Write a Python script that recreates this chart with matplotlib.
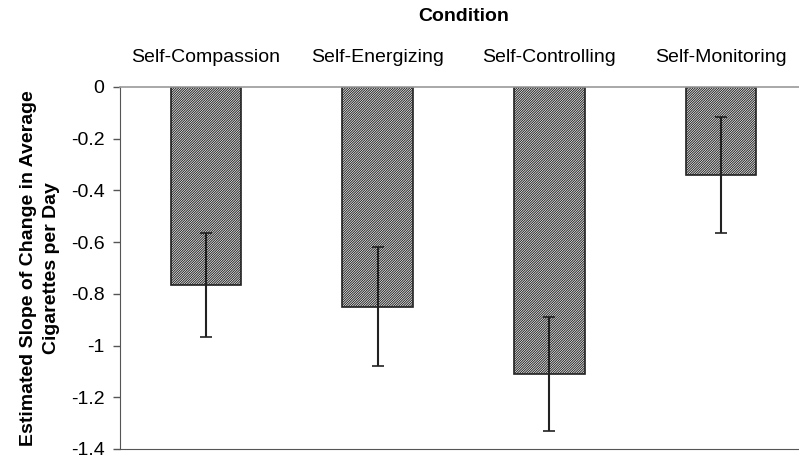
import matplotlib.pyplot as plt
import numpy as np

plt.rcParams['font.family'] = ['Liberation Sans', 'DejaVu Sans']
plt.rcParams['hatch.color'] = '#8a8a8a'
plt.rcParams['hatch.linewidth'] = 0.7

conditions = ["Self-Compassion", "Self-Energizing", "Self-Controlling", "Self-Monitoring"]
slopes = [-0.765, -0.85, -1.11, -0.34]
errors = [0.2, 0.23, 0.22, 0.225]
y_ticks = [0, -0.2, -0.4, -0.6, -0.8, -1, -1.2, -1.4]

fig = plt.figure(figsize=(7.99, 4.59), dpi=100)
ax = fig.add_axes([0.150, 0.0218, 0.86, 0.7887])

x = np.arange(len(conditions))
ax.bar(x, slopes, width=0.41, color='white', edgecolor='#222222',
       linewidth=1.2, hatch='/' * 14)
ax.errorbar(x, slopes, yerr=errors, fmt='none', ecolor='#222222',
            elinewidth=1.5, capsize=4.5, capthick=1.2)

ax.set_xlim(-0.5, 3.5)
ax.set_ylim(-1.4, 0)
ax.set_yticks(y_ticks)
ax.set_yticklabels([("%g" % v) for v in y_ticks])

ax.xaxis.tick_top()
ax.set_xticks(x)
ax.set_xticklabels(conditions)
ax.tick_params(axis='x', length=0, pad=15, labelsize=14)
ax.tick_params(axis='y', direction='out', length=5, width=1, color='#555555',
               pad=6, labelsize=14)

ax.xaxis.set_label_position('top')
ax.set_xlabel("Condition", fontsize=14, fontweight='bold', labelpad=20)
ax.set_ylabel("Estimated Slope of Change in Average\nCigarettes per Day",
              fontsize=14, fontweight='bold', labelpad=8, linespacing=1.45)

ax.spines['right'].set_visible(False)
ax.spines['top'].set_color('#999999')
ax.spines['top'].set_linewidth(1.2)
ax.spines['left'].set_color('#555555')
ax.spines['bottom'].set_color('#555555')

fig.savefig("out.png", dpi=100)
